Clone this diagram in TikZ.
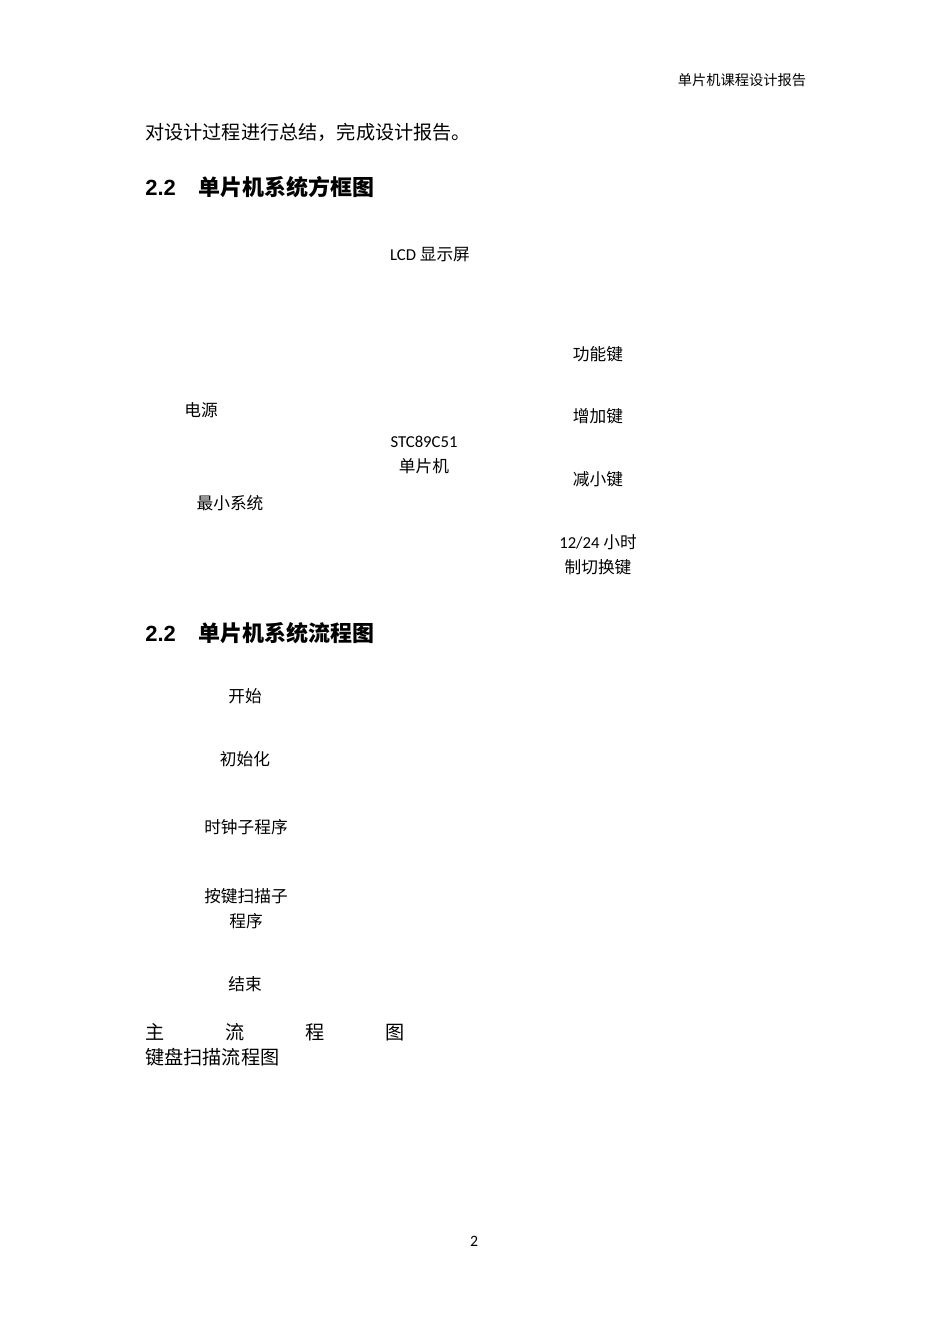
\documentclass[tikz,border=0pt]{standalone}
\usepackage{fontspec}
\newfontfamily\cjk{Noto Sans CJK SC}
\newfontfamily\calib{Carlito}
\newfontfamily\arialfont{Liberation Sans}
\usetikzlibrary{positioning}

\begin{document}
\begin{tikzpicture}[x=0.02cm, y=-0.02cm]

        % --- 定义样式 ---
        \tikzstyle{header} = [inner sep=0pt, font=\fontsize{8.1}{10}\cjk]
        \tikzstyle{body} = [inner sep=0pt, anchor=west, font=\fontsize{10.9}{14}\cjk]
        \tikzstyle{heading} = [inner sep=0pt, anchor=west, font=\fontsize{12.5}{15}\bfseries\cjk]
        \tikzstyle{boxtext} = [inner sep=0pt, align=center, font=\fontsize{9.5}{14.2}\cjk]

        % --- 页面 ---
        \useasboundingbox (0,0) rectangle (950,1344);
        \fill[white] (0,0) rectangle (950,1344);

        \node (hdr) [header] at (742,80) {单片机课程设计报告};
        \node (intro) [body] at (145,132) {对设计过程进行总结，完成设计报告。};
        \node (sec_block) [heading] at (145,187) {{\arialfont\bfseries 2.2}\hspace{13pt}单片机系统方框图};

        % --- 方框图 ---
        \node (lcd) [boxtext] at (430,255) {{\calib LCD} 显示屏};
        \node (mcu) [boxtext] at (424,455) {{\calib STC89C51}\\单片机};
        \node (power) [boxtext] at (201,410) {电源};
        \node (minsys) [boxtext] at (230,503) {最小系统};
        \node (key_func) [boxtext] at (598,354) {功能键};
        \node (key_up) [boxtext] at (598,416) {增加键};
        \node (key_down) [boxtext] at (598,479) {减小键};
        \node (key_mode) [boxtext] at (598,555) {{\calib 12/24} 小时\\制切换键};

        % --- 流程图 ---
        \node (sec_flow) [heading] at (145,633) {{\arialfont\bfseries 2.2}\hspace{13pt}单片机系统流程图};
        \node (start) [boxtext] at (245,696) {开始};
        \node (init) [boxtext] at (245,759) {初始化};
        \node (clock) [boxtext] at (246,827) {时钟子程序};
        \node (scan) [boxtext] at (246,909) {按键扫描子\\程序};
        \node (stop) [boxtext] at (245,984) {结束};

        % --- 图题 ---
        \node (cap_main) [body] at (145,1032) {\makebox[1.6cm][l]{主}\makebox[1.6cm][l]{流}\makebox[1.6cm][l]{程}图};
        \node (cap_scan) [body] at (145,1057) {键盘扫描流程图};

        \node (pageno) [inner sep=0pt, font=\fontsize{9}{11}\calib] at (474,1241) {2};

\end{tikzpicture}
\end{document}
